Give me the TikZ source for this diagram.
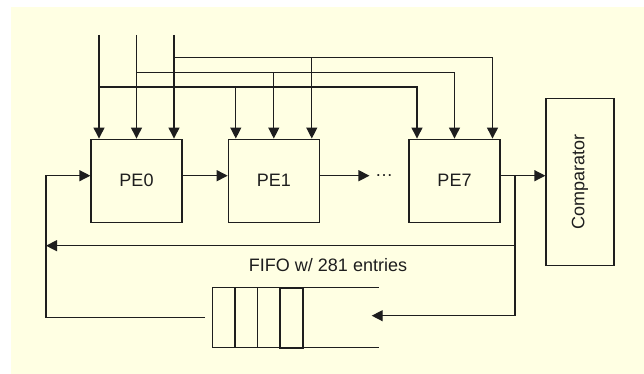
\documentclass[tikz,border=0pt]{standalone}
\usepackage{fontspec}
\setmainfont{Liberation Sans}
\usepackage{tikz}
\usetikzlibrary{positioning, arrows.meta}
\definecolor{bgyellow}{RGB}{255,255,227}
\definecolor{ink}{RGB}{30,30,30}

\begin{document}
\begin{tikzpicture}[
  x=1pt, y=-1pt,
  node distance=45pt,
  every node/.style={font=\fontsize{18}{20}\selectfont, text=ink},
  pe/.style={draw=ink, line width=1.3pt, minimum width=91pt, minimum height=83pt, inner sep=0pt},
  cell/.style={draw=ink, line width=1.5pt, minimum width=22.7pt, minimum height=60pt, inner sep=0pt, outer sep=0pt},
  arr/.style={-{Triangle[length=11pt, width=11pt]}, line width=1.3pt, draw=ink},
  wire/.style={line width=1.3pt, draw=ink}
]
  \useasboundingbox (0,0) rectangle (644,374);
  \fill[bgyellow] (11,7) rectangle (644,374);

  \node[pe] (pe0) at (136.5,180.7) {PE0};
  \node[pe, right=of pe0] (pe1) {PE1};
  \node[pe] (pe7) at (454.5,180.7) {PE7};
  \node (dots) at (384,176) {\textellipsis};
  \node[pe, minimum width=167pt, minimum height=68pt, rotate=90] (cmp) at (580,181.7) {Comparator};
  \node (fifolbl) at (328,265) {FIFO w/ 281 entries};

  % queue cells
  \node[cell] (q1) at (223.6,317.7) {};
  \node[cell, right=0pt of q1] (q2) {};
  \node[cell, right=0pt of q2] (q3) {};
  \node[cell, right=0pt of q3, line width=2pt] (q4) {};

  \coordinate (in1) at (99,35);
  \coordinate (in2) at (136.5,35);
  \coordinate (in3) at (174,35);
  \coordinate (split) at (515,175.7);
  \coordinate (fbk) at (46,245.7);
  \coordinate (qin) at (371.7,315.7);
  \coordinate (qend) at (379.3,317.7);
  \coordinate (qout) at (205,317.7);

  % inputs and broadcast buses
  \draw[arr] (in1) -- (in1 |- pe0.north);
  \draw[arr] (in2) -- (in2 |- pe0.north);
  \draw[arr] (in3) -- (in3 |- pe0.north);
  \draw[arr] (in1 |- 0,87) -| ([xshift=-37.5pt]pe7.north);
  \draw[arr] (in2 |- 0,72.3) -| (pe7.north);
  \draw[arr] (in3 |- 0,57.7) -| ([xshift=38pt]pe7.north);
  \draw[arr] ([xshift=-38pt]pe1.north |- 0,87) -- ([xshift=-38pt]pe1.north);
  \draw[arr] (pe1.north |- 0,72.3) -- (pe1.north);
  \draw[arr] ([xshift=38pt]pe1.north |- 0,57.7) -- ([xshift=38pt]pe1.north);

  % chain
  \draw[arr] ([yshift=5pt]pe0.east) -- ([yshift=5pt]pe1.west);
  \draw[arr] ([yshift=5pt]pe1.east) -- ([xshift=-2pt]dots.west |- split);
  \draw[arr] ([yshift=5pt]pe7.east) -- (split -| cmp.north);

  % feedback through the FIFO
  \draw[arr] (split) |- (fbk);
  \draw[arr] (split) |- (qin);
  \draw[arr] (qout) -| (fbk |- split) -- ([yshift=5pt]pe0.west);
  \draw[wire] (q1.north west) -- (q1.north west -| qend);
  \draw[wire] (q1.south west) -- (q1.south west -| qend);
\end{tikzpicture}
\end{document}
